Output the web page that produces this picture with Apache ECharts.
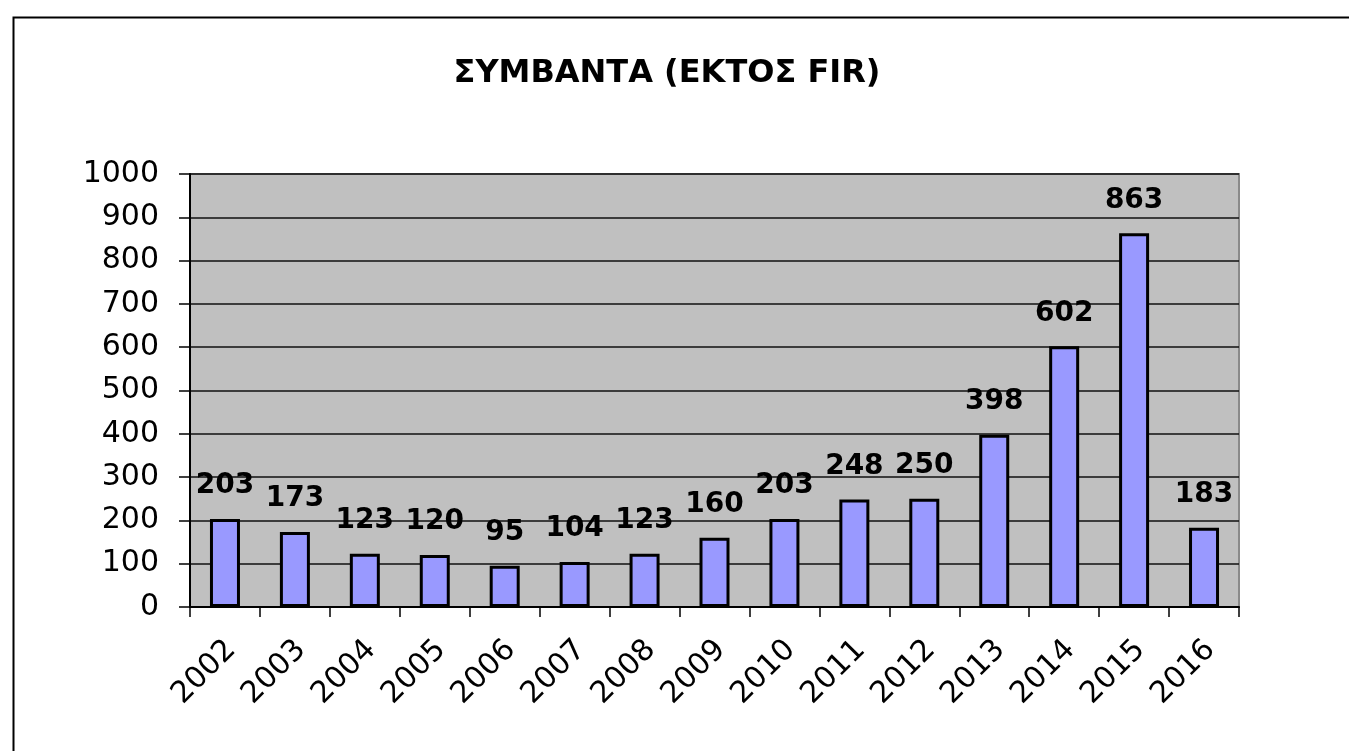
<!DOCTYPE html>
<html>
<head>
<meta charset="utf-8">
<script src="https://cdn.jsdelivr.net/npm/echarts@6/dist/echarts.min.js"></script>
<style>html,body{margin:0;padding:0;background:#fff;}#c{width:1349px;height:751px;}</style>
</head>
<body>
<div id="c"></div>
<script>
const titleText = 'ΣΥΜΒΑΝΤΑ (ΕΚΤΟΣ FIR)';
const years = ['2002','2003','2004','2005','2006','2007','2008','2009','2010','2011','2012','2013','2014','2015','2016'];
const incidents = [203,173,123,120,95,104,123,160,203,248,250,398,602,863,183];
const yMin = 0, yMax = 1000, yStep = 100;

const chart = echarts.init(document.getElementById('c'), null, {renderer:'canvas'});
const FONT = 'DejaVu Sans';
chart.setOption({
  animation: false,
  backgroundColor: '#fff',
  title: {
    text: titleText,
    left: 662, top: 53, textAlign: 'center',
    textStyle: {fontFamily: FONT, fontSize: 32, fontWeight: 'bold', color: '#000'}
  },
  graphic: [{
    type: 'rect', left: 11, top: 15, silent: true,
    shape: {width: 1400, height: 800},
    style: {fill: 'none', stroke: '#000', lineWidth: 2}
  }],
  grid: {
    left: 190, right: 110, top: 174, bottom: 144,
    show: true, backgroundColor: '#C0C0C0', borderColor: '#8a8a8a', borderWidth: 2
  },
  xAxis: {
    type: 'category', data: years, boundaryGap: true,
    axisLine: {lineStyle: {color: '#000', width: 2}},
    axisTick: {show: true, length: 10, alignWithLabel: false, lineStyle: {color: '#000', width: 1.5}},
    axisLabel: {rotate: 45, margin: 32, verticalAlign: 'top', lineHeight: 18, fontFamily: FONT, fontSize: 30, color: '#000', interval: 0}
  },
  yAxis: {
    type: 'value', min: yMin, max: yMax, interval: yStep,
    axisLine: {show: true, lineStyle: {color: '#000', width: 2}},
    axisTick: {show: true, length: 11, lineStyle: {color: '#000', width: 1.5}},
    axisLabel: {margin: 31, fontFamily: FONT, fontSize: 30, color: '#000', formatter: v => String(v)},
    splitLine: {show: true, lineStyle: {color: '#111', width: 1.5}}
  },
  series: [{
    type: 'bar', data: incidents, barWidth: 30,
    itemStyle: {color: '#9999FF', borderColor: '#000', borderWidth: 3},
    label: {show: true, position: 'top', distance: 19, fontFamily: FONT, fontSize: 28, fontWeight: 'bold', color: '#000'}
  }]
});
</script>
</body>
</html>
